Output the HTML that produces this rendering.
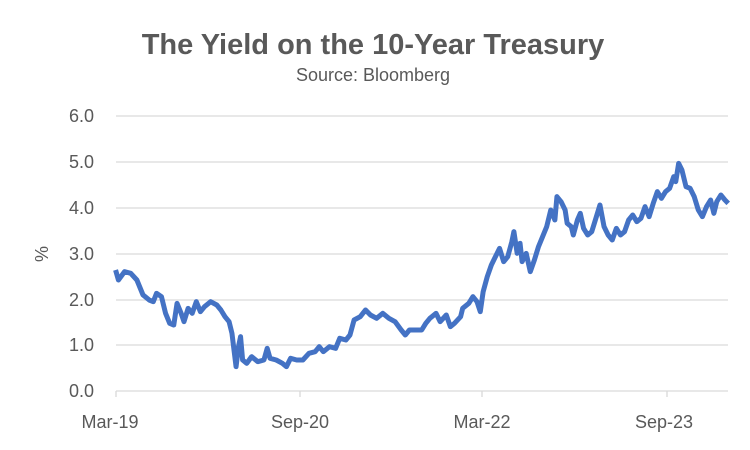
<!DOCTYPE html>
<html><head><style>
html,body{margin:0;padding:0;background:#fff;}
svg{display:block;font-family:"Liberation Sans",sans-serif;}
</style></head><body>
<svg width="750" height="450" viewBox="0 0 750 450">
<rect width="750" height="450" fill="#fff"/>
<text x="373" y="54" text-anchor="middle" font-size="29" font-weight="bold" fill="#595959">The Yield on the 10-Year Treasury</text>
<text x="373" y="81" text-anchor="middle" font-size="18" fill="#595959">Source: Bloomberg</text>
<g stroke="#d9d9d9" stroke-width="1.3">
<line x1="116" y1="116" x2="728" y2="116"/>
<line x1="116" y1="162" x2="728" y2="162"/>
<line x1="116" y1="208" x2="728" y2="208"/>
<line x1="116" y1="254" x2="728" y2="254"/>
<line x1="116" y1="300" x2="728" y2="300"/>
<line x1="116" y1="345" x2="728" y2="345"/>
<line x1="116" y1="391" x2="728" y2="391"/>
<line x1="116" y1="391" x2="116" y2="397"/>
<line x1="300" y1="391" x2="300" y2="397"/>
<line x1="482" y1="391" x2="482" y2="397"/>
<line x1="667" y1="391" x2="667" y2="397"/>
</g>
<g font-size="18" fill="#595959" text-anchor="end">
<text x="94" y="122">6.0</text>
<text x="94" y="168">5.0</text>
<text x="94" y="214">4.0</text>
<text x="94" y="260">3.0</text>
<text x="94" y="306">2.0</text>
<text x="94" y="351">1.0</text>
<text x="94" y="397">0.0</text>
</g>
<text transform="translate(48,254) rotate(-90)" text-anchor="middle" font-size="18" fill="#595959">%</text>
<g font-size="18" fill="#595959" text-anchor="middle">
<text x="110" y="428">Mar-19</text>
<text x="300" y="428">Sep-20</text>
<text x="482" y="428">Mar-22</text>
<text x="664" y="428">Sep-23</text>
</g>
<g transform="translate(100,100) scale(0.4098,0.33333)">
<polyline fill="none" stroke="#4472C4" stroke-width="5" vector-effect="non-scaling-stroke" stroke-linejoin="round" points="38,510 45,540 60,515 75,520 90,540 105,585 120,600 130,605 138,580 150,590 160,640 170,670 180,675 188,610 198,640 205,665 215,625 225,640 235,605 245,635 255,620 270,605 285,615 295,630 305,650 315,665 322,700 328,760 332,800 338,740 343,710 348,780 358,790 370,770 385,785 400,780 408,745 415,775 430,780 445,790 455,800 465,775 480,780 495,780 510,760 525,755 535,740 545,755 560,740 575,745 585,715 600,720 610,705 620,660 635,650 648,630 660,645 675,655 690,640 705,655 720,665 735,690 745,705 755,690 770,690 785,690 795,670 805,655 820,640 830,665 845,645 855,680 865,670 880,650 885,625 900,610 910,590 920,605 928,635 935,575 945,530 955,495 965,470 975,445 985,485 995,470 1005,425 1010,395 1018,460 1025,430 1030,485 1040,460 1050,515 1060,480 1070,440 1080,410 1090,380 1100,330 1110,360 1115,290 1125,305 1135,330 1140,370 1150,380 1155,405 1165,360 1172,340 1180,385 1190,405 1200,395 1210,355 1220,315 1230,380 1240,405 1250,420 1260,385 1270,405 1280,395 1290,360 1300,345 1310,365 1320,355 1330,320 1340,350 1350,310 1360,275 1370,295 1380,275 1390,265 1400,230 1405,245 1412,190 1420,210 1430,260 1440,265 1450,290 1460,330 1470,350 1480,320 1490,300 1498,340 1505,305 1515,285 1525,300 1533,310"/>
</g>
</svg>
</body></html>
